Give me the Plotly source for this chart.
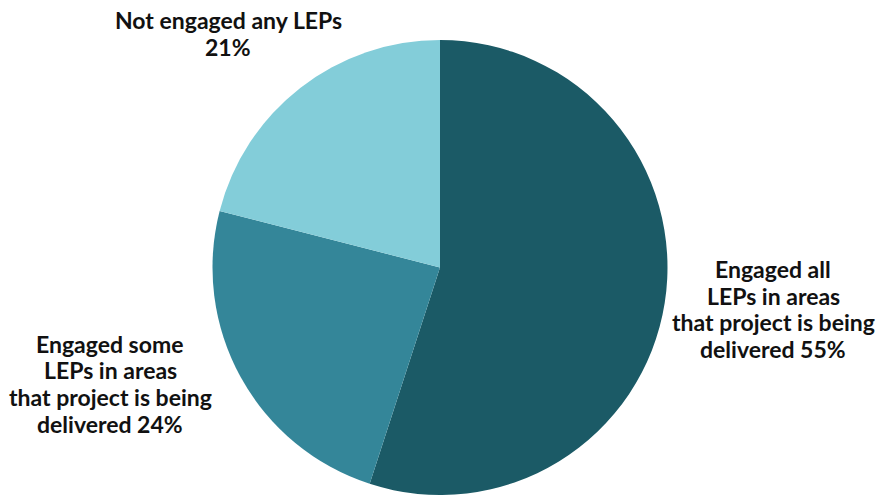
import plotly.graph_objects as go

labels = ["Engaged all LEPs in areas that project is being delivered",
          "Engaged some LEPs in areas that project is being delivered",
          "Not engaged any LEPs"]
values = [55, 24, 21]
colors = ["#1b5a66", "#348699", "#83cdd9"]
label_lines = [
    ["Engaged all", "LEPs in areas", "that project is being", "delivered 55%"],
    ["Engaged some", "LEPs in areas", "that project is being", "delivered 24%"],
    ["Not engaged any LEPs", "21%"],
]

W, H = 878, 495
L, R, T, B = 0, 0, 40, 0
pw, ph = W - L - R, H - T - B
CX = 440  # pie centre x in pixels

def px(x):
    return (x - L) / pw

def py(y):
    return (H - B - y) / ph

fig = go.Figure(go.Pie(
    labels=labels, values=values, sort=False, direction="clockwise", rotation=0,
    marker=dict(colors=colors, line=dict(width=0)),
    textinfo="none", hoverinfo="label+percent", showlegend=False,
    domain=dict(x=[(2 * CX - pw) / pw, 1], y=[0, 1]),
))

# label block centre x and baseline y of each line
blocks = [(773, [277, 304, 330, 357]), (110, [352, 378, 405, 432]), (228, [28, 55])]
for lines, (cx, baselines) in zip(label_lines, blocks):
    for txt, by in zip(lines, baselines):
        fig.add_annotation(text=txt, x=px(cx), y=py(by - 8), xref="paper", yref="paper",
                           xanchor="center", yanchor="middle", showarrow=False,
                           font=dict(family="Lato", size=23, color="#111111", weight="bold"))

fig.update_layout(width=W, height=H, margin=dict(l=L, r=R, t=T, b=B, pad=0),
                  paper_bgcolor="white", plot_bgcolor="white")
fig.write_html("out.html", config={"displayModeBar": False},
               post_script="document.body.style.margin='0';document.body.style.overflow='hidden';")
